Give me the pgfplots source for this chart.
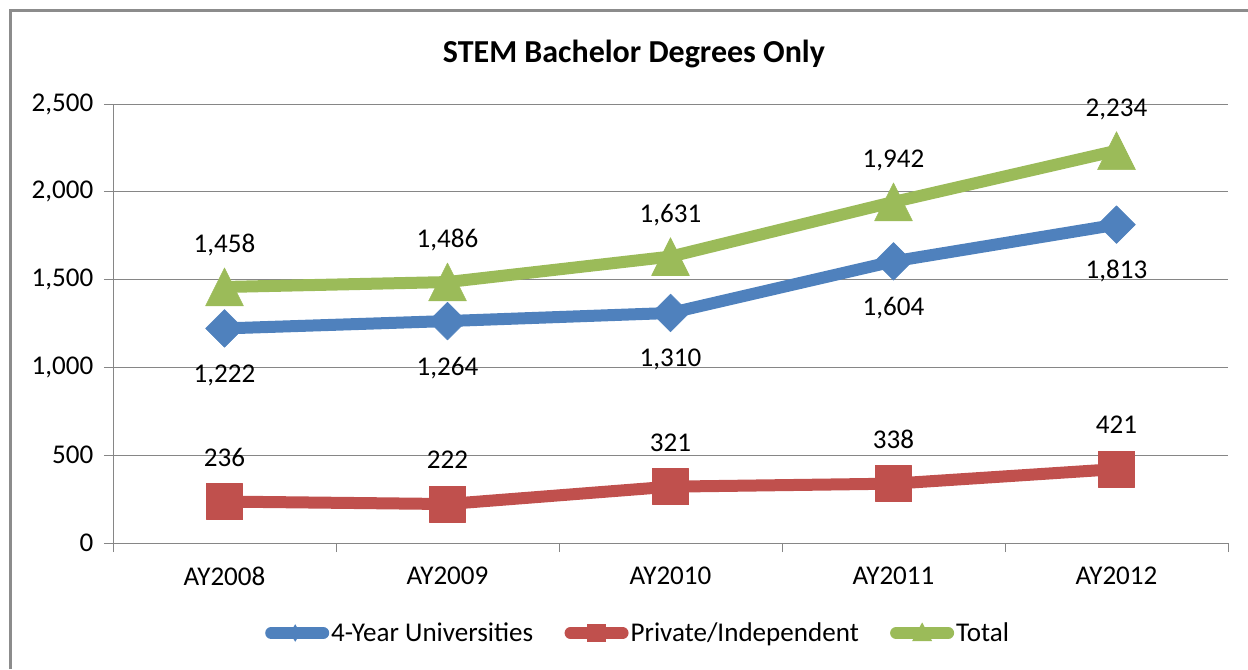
\documentclass[border=0pt]{standalone}
\usepackage{fontspec}
\setmainfont{Carlito}
\usepackage{pgfplots}
\pgfplotsset{compat=1.18}
\definecolor{cblue}{HTML}{4F81BD}
\definecolor{cred}{HTML}{C0504D}
\definecolor{cgreen}{HTML}{9BBB59}
\definecolor{cgrid}{HTML}{868686}
\definecolor{cframe}{HTML}{8C8C8C}
\newcommand{\fs}{\fontsize{20.3}{24}\selectfont}
\begin{document}
\begin{tikzpicture}
\def\u{0.75pt}
\path[use as bounding box] (0,0) rectangle ({1248*\u},{-669*\u});
\draw[cframe, line width=2.25pt] ({10.5*\u},{-669*\u}) -- ({10.5*\u},{-10.5*\u}) -- ({1248*\u},{-10.5*\u});
\node[anchor=base, font=\bfseries\fontsize{24}{28}\selectfont] at ({634*\u},{-62*\u}) {STEM Bachelor Degrees Only};
\begin{axis}[
  at={(84.75pt,-407.25pt)}, anchor=south west,
  scale only axis, width=836.25pt, height=329.25pt,
  xmin=-0.5, xmax=4.5, ymin=0, ymax=2500,
  clip=false,
  xtick={0,1,2,3,4},
  xticklabels={AY2008,AY2009,AY2010,AY2011,AY2012},
  minor xtick={-0.5,0.5,1.5,2.5,3.5,4.5},
  ytick={0,500,1000,1500,2000,2500},
  axis x line*=bottom, axis y line*=left,
  axis line style={cgrid, line width=0.75pt, -},
  ymajorgrids, major grid style={cgrid, line width=0.75pt},
  tick align=outside,
  major tick length=6.75pt, minor tick length=6.75pt,
  major x tick style={draw=none},
  minor x tick style={cgrid, line width=0.75pt},
  major y tick style={cgrid, line width=0.75pt},
  tick label style={font=\fs, text=black},
  yticklabel style={xshift=-4.5pt},
  xticklabel style={yshift=-8pt},
  /pgf/number format/1000 sep={,},
  /pgf/number format/assume math mode=true,
  legend style={at={(0.471,-0.205)}, anchor=center, draw=none, fill=none,
    legend columns=3, font=\fs, inner sep=0pt,
    nodes={inner sep=1.5pt},
    /tikz/every even column/.append style={column sep=22pt}},
]
\addplot[cblue, line width=9pt, line join=round, mark=square*, mark size=10pt,
  mark options={rotate=45, line width=0.4pt, solid},
  nodes near coords,
  every node near coord/.append style={anchor=center, yshift=-35pt, font=\fs, text=black},
  legend image code/.code={
    \draw[cblue, line width=9pt, line cap=round] (3pt,0pt) -- (42pt,0pt);
    \path[fill=cblue, draw=none] (21pt,6.6pt) -- (25pt,0pt) -- (21pt,-6.6pt) -- (17pt,0pt) -- cycle;
  }]
coordinates {(0,1222) (1,1264) (2,1310) (3,1604) (4,1813)};
\addlegendentry{4-Year Universities}
\addplot[cred, line width=9pt, line join=round, mark=square*, mark size=13.5pt,
  mark options={line width=0.4pt, solid},
  nodes near coords,
  every node near coord/.append style={anchor=center, yshift=33pt, font=\fs, text=black},
  legend image code/.code={
    \draw[cred, line width=9pt, line cap=round] (3pt,0pt) -- (42pt,0pt);
    \path[fill=cred, draw=none] (15.5pt,-7pt) rectangle (29.5pt,7pt);
  }]
coordinates {(0,236) (1,222) (2,321) (3,338) (4,421)};
\addlegendentry{Private/Independent}
\addplot[cgreen, line width=9pt, line join=round, mark=triangle*, mark size=16.4pt,
  mark options={yshift=-4.7pt, yscale=1.155, line width=0.4pt, solid},
  nodes near coords,
  every node near coord/.append style={anchor=center, yshift=36pt, font=\fs, text=black},
  legend image code/.code={
    \draw[cgreen, line width=9pt, line cap=round] (3pt,0pt) -- (42pt,0pt);
    \path[fill=cgreen, draw=none] (22.5pt,8pt) -- (30pt,-6pt) -- (15pt,-6pt) -- cycle;
  }]
coordinates {(0,1458) (1,1486) (2,1631) (3,1942) (4,2234)};
\addlegendentry{Total}
\end{axis}
\end{tikzpicture}
\end{document}
